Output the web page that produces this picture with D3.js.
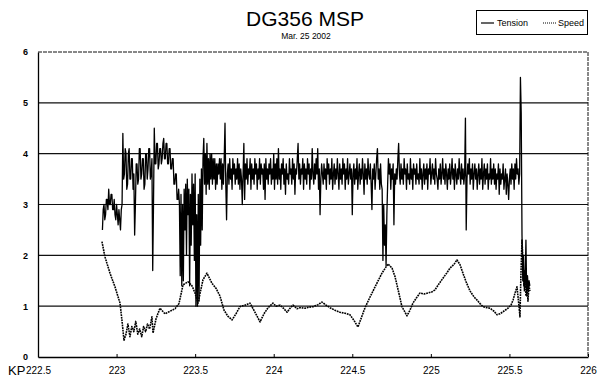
<!DOCTYPE html>
<html>
<head>
<meta charset="utf-8">
<script src="https://cdn.jsdelivr.net/npm/d3@7/dist/d3.min.js"></script>
<style>
  html, body { margin: 0; padding: 0; background: #fff; }
  svg { display: block; font-family: "Liberation Sans", Arial, sans-serif; }
</style>
</head>
<body>
<svg id="chart" width="597" height="379"></svg>
<script>
// ---------- DATA ----------
const chartTitle = "DG356 MSP";
const chartSubtitle = "Mar. 25 2002";
const seriesNames = ["Tension", "Speed"];
const xTickValues = [222.5, 223, 223.5, 224, 224.5, 225, 225.5, 226];
const xTickLabels = ["222.5", "223", "223.5", "224", "224.5", "225", "225.5", "226"];
const yTickValues = [0, 1, 2, 3, 4, 5, 6];

// Tension: recorded every 0.005 km starting at KP 222.91 (one row = 0.1 km)
const tensionStartKm = 222.91;
const tensionStepKm = 0.005;
const tensionValues = [
  2.5, 2.9, 3.0, 2.7, 2.8, 3.1, 3.1, 2.9, 3.3, 3.0, 3.0, 3.2, 3.2, 2.9, 2.9, 3.1, 2.8, 2.7, 3.0, 2.8,
  2.6, 2.9, 2.7, 2.5, 2.9, 3.0, 4.4, 3.5, 3.6, 4.1, 4.0, 3.3, 3.4, 4.0, 4.1, 3.5, 3.5, 3.9, 3.9, 3.3,
  3.6, 2.4, 3.0, 3.8, 3.8, 3.4, 3.5, 4.1, 4.1, 3.5, 3.6, 3.9, 3.9, 3.3, 3.4, 4.0, 4.0, 3.5, 3.7, 4.1,
  4.1, 3.5, 3.6, 3.9, 1.7, 3.0, 4.5, 3.8, 3.8, 4.2, 4.2, 3.7, 3.8, 4.1, 4.1, 3.8, 3.9, 4.2, 4.3, 3.9,
  3.9, 4.2, 4.2, 3.8, 3.8, 4.1, 4.1, 3.7, 3.7, 3.9, 3.9, 3.4, 3.4, 3.6, 3.6, 3.1, 3.1, 3.3, 3.0, 1.6,
  3.2, 1.4, 3.0, 1.5, 3.3, 2.5, 3.4, 2.0, 3.5, 2.8, 3.3, 1.4, 3.2, 2.2, 3.6, 2.6, 3.4, 1.9, 3.6, 1.0,
  2.8, 1.0, 3.2, 1.1, 3.5, 2.2, 3.7, 2.5, 3.9, 4.3, 3.4, 4.0, 3.2, 4.2, 3.4, 3.9, 3.3, 4.0, 3.5, 4.0,
  3.4, 3.9, 3.5, 3.9, 3.3, 3.8, 3.4, 3.8, 3.6, 3.9, 3.5, 3.9, 3.3, 3.8, 3.4, 3.9, 4.6, 3.4, 2.7, 3.6,
  3.8, 3.4, 3.9, 3.5, 3.7, 3.3, 3.9, 3.6, 3.8, 3.4, 3.7, 3.5, 3.9, 3.4, 3.8, 3.3, 3.7, 3.5, 3.0, 3.6,
  4.2, 3.1, 3.8, 3.5, 3.9, 3.4, 3.7, 3.6, 3.9, 3.3, 3.8, 3.5, 3.7, 3.4, 3.9, 3.6, 3.8, 3.3, 3.7, 3.5,
  3.9, 3.4, 3.8, 3.6, 3.7, 3.3, 3.8, 3.1, 3.9, 3.5, 3.7, 3.4, 3.8, 3.6, 3.9, 3.4, 3.7, 3.5, 4.0, 3.3,
  3.8, 3.5, 3.9, 3.4, 4.1, 3.5, 3.7, 3.3, 3.8, 3.6, 3.9, 3.4, 3.7, 3.2, 3.8, 3.5, 3.6, 3.4, 3.9, 3.6,
  3.7, 3.4, 3.9, 3.5, 3.8, 3.2, 3.7, 3.6, 3.9, 4.2, 3.5, 3.8, 3.4, 3.7, 3.6, 3.9, 3.3, 3.8, 3.5, 3.7,
  3.4, 3.9, 3.6, 3.8, 3.3, 3.7, 3.5, 4.1, 3.6, 3.4, 3.8, 3.5, 3.9, 3.6, 4.1, 3.3, 3.7, 2.8, 3.5, 3.8,
  3.6, 3.4, 3.8, 3.5, 3.7, 3.3, 3.9, 3.6, 3.8, 3.4, 3.7, 3.5, 3.9, 3.3, 3.6, 3.8, 3.4, 3.7, 3.5, 3.9,
  3.6, 3.3, 3.8, 3.5, 3.7, 3.4, 3.9, 3.6, 3.8, 3.3, 3.7, 3.5, 3.9, 3.4, 3.6, 3.8, 3.5, 3.7, 2.8, 3.6,
  3.8, 3.4, 3.7, 3.5, 3.9, 3.3, 3.6, 3.8, 3.4, 3.7, 3.5, 3.9, 3.6, 3.2, 3.8, 3.5, 3.7, 3.4, 3.9, 3.6,
  3.5, 3.8, 3.4, 2.9, 3.7, 3.5, 3.8, 3.3, 3.6, 3.9, 4.1, 3.5, 3.7, 3.3, 3.8, 3.4, 3.3, 1.9, 3.0, 2.2,
  2.6, 1.8, 2.8, 3.4, 3.9, 3.6, 3.8, 3.3, 3.7, 3.5, 3.8, 2.6, 3.6, 3.4, 3.7, 3.5, 3.9, 4.2, 3.6, 3.4,
  3.8, 3.5, 3.7, 3.4, 3.9, 3.6, 3.7, 3.3, 3.8, 3.5, 3.6, 3.4, 3.9, 3.5, 3.7, 3.3, 3.8, 3.6, 3.7, 3.4,
  3.8, 3.5, 3.6, 3.4, 3.9, 3.5, 3.7, 3.3, 3.6, 3.8, 3.4, 3.7, 3.5, 3.8, 3.3, 3.7, 3.6, 3.9, 3.4, 3.6,
  3.8, 3.5, 3.7, 3.4, 3.9, 3.6, 3.5, 3.3, 3.7, 3.5, 3.8, 3.4, 3.6, 3.9, 3.5, 3.7, 3.4, 3.8, 3.6, 3.3,
  3.7, 3.5, 3.8, 3.4, 3.6, 3.9, 3.5, 3.7, 3.3, 3.8, 3.6, 3.4, 3.7, 3.5, 3.9, 3.6, 3.4, 3.8, 3.5, 3.7,
  3.4, 3.6, 4.7, 2.5, 3.5, 3.8, 3.6, 3.9, 3.4, 3.7, 3.5, 3.8, 3.3, 3.6, 3.8, 3.5, 3.7, 3.3, 3.6, 3.8,
  3.4, 3.7, 3.5, 3.9, 3.3, 3.6, 3.8, 3.4, 3.7, 3.5, 3.8, 3.3, 3.6, 3.5, 3.9, 3.4, 3.7, 3.5, 3.8, 3.4,
  3.7, 3.3, 3.6, 3.5, 3.8, 3.2, 3.7, 3.4, 3.6, 3.5, 3.8, 3.3, 3.5, 3.7, 3.2, 3.6, 3.4, 3.1, 3.5, 3.7,
  3.4, 3.8, 3.5, 3.7, 3.3, 3.8, 3.5, 3.9, 3.6, 3.7, 3.4, 3.6, 5.5, 4.8, 2.4, 1.5, 2.0, 1.3, 1.4, 2.3,
  1.2, 1.6, 1.3, 1.5, 1.4
];

// Speed: KP positions and values
const speedKm = [
  222.907, 222.926, 222.958, 222.990, 223.022, 223.035, 223.047,
  223.060, 223.072, 223.085, 223.097, 223.110, 223.122, 223.135, 223.147, 223.160, 223.172, 223.185, 223.197, 223.210,
  223.225, 223.232, 223.251, 223.276, 223.308, 223.340, 223.372, 223.397, 223.423, 223.455,
  223.480, 223.499, 223.518, 223.550, 223.575, 223.607, 223.633, 223.658, 223.684, 223.709,
  223.735, 223.760, 223.785, 223.817, 223.849, 223.881, 223.913, 223.938, 223.964, 223.995,
  224.015, 224.040, 224.065, 224.085, 224.104, 224.123, 224.148, 224.167, 224.199, 224.225,
  224.250, 224.282, 224.307, 224.333, 224.358, 224.390, 224.422, 224.454, 224.485, 224.511,
  224.536, 224.555, 224.581, 224.613, 224.645, 224.689, 224.727, 224.753, 224.772, 224.797,
  224.816, 224.848, 224.867, 224.886, 224.912, 224.931, 224.957, 224.982, 225.007, 225.026,
  225.052, 225.077, 225.103, 225.122, 225.147, 225.166, 225.185, 225.204, 225.224, 225.249,
  225.275, 225.294, 225.313, 225.332, 225.358, 225.377, 225.402, 225.421, 225.440, 225.459,
  225.491, 225.510, 225.523, 225.535, 225.548, 225.561, 225.567, 225.573, 225.580, 225.586,
  225.592, 225.599, 225.605, 225.611, 225.618, 225.624, 225.631
];
const speedValues = [
  2.27, 1.97, 1.65, 1.38, 1.06, 0.70, 0.33,
  0.45, 0.65, 0.40, 0.60, 0.50, 0.70, 0.45, 0.55, 0.40, 0.60, 0.50, 0.65, 0.55,
  0.79, 0.47, 0.75, 0.96, 0.85, 0.90, 0.95, 1.05, 1.42, 1.48,
  1.40, 1.26, 1.06, 1.52, 1.65, 1.45, 1.35, 1.20, 0.92, 0.80,
  0.73, 0.85, 0.99, 1.02, 1.06, 0.88, 0.69, 0.85, 0.97, 1.06,
  1.00, 1.02, 0.95, 0.88, 0.96, 1.02, 0.95, 0.97, 0.96, 0.98,
  0.99, 1.03, 1.08, 1.02, 0.97, 0.92, 0.88, 0.86, 0.83, 0.72,
  0.59, 0.75, 0.97, 1.18, 1.38, 1.65, 1.83, 1.75, 1.58, 1.25,
  0.99, 0.81, 0.92, 1.06, 1.18, 1.26, 1.24, 1.26, 1.28, 1.32,
  1.44, 1.55, 1.66, 1.75, 1.82, 1.91, 1.82, 1.65, 1.48, 1.30,
  1.18, 1.12, 1.05, 0.99, 0.97, 0.96, 0.90, 0.83, 0.85, 0.89,
  0.96, 1.02, 1.12, 1.25, 1.38, 1.00, 0.79, 1.60, 2.30, 1.90,
  1.40, 1.70, 1.20, 1.50, 1.10, 1.40, 1.30
];

// ---------- CHART ----------
const svg = d3.select("#chart");
const W = 597, H = 379;
const plot = { left: 38, right: 588, top: 52, bottom: 357 };

const x = d3.scaleLinear().domain([222.5, 226]).range([plot.left, plot.right]);
const y = d3.scaleLinear().domain([0, 6]).range([plot.bottom, plot.top]);

svg.append("rect").attr("width", W).attr("height", H).attr("fill", "#fff");

// gridlines
svg.append("g").selectAll("line")
  .data(yTickValues.filter(v => v > 0 && v < 6))
  .join("line")
  .attr("x1", plot.left).attr("x2", plot.right)
  .attr("y1", d => y(d)).attr("y2", d => y(d))
  .attr("stroke", "#111").attr("stroke-width", 1.2);

// frame: top and right dashed, left and bottom solid
svg.append("line").attr("x1", plot.left).attr("x2", plot.right)
  .attr("y1", y(6)).attr("y2", y(6))
  .attr("stroke", "#111").attr("stroke-width", 1).attr("stroke-dasharray", "4,1");
svg.append("line").attr("x1", plot.right).attr("x2", plot.right)
  .attr("y1", y(6)).attr("y2", y(0))
  .attr("stroke", "#111").attr("stroke-width", 1).attr("stroke-dasharray", "4,1");

// data lines
const tensionData = tensionValues.map((v, i) => ({ km: tensionStartKm + i * tensionStepKm, v }));
const speedData = speedKm.map((k, i) => ({ km: k, v: speedValues[i] }));

const line = d3.line().x(d => x(d.km)).y(d => y(d.v));

svg.append("path").datum(speedData)
  .attr("d", line)
  .attr("fill", "none").attr("stroke", "#000")
  .attr("stroke-width", 1.6).attr("stroke-dasharray", "1.8,0.8")
  .attr("stroke-linejoin", "round");

svg.append("path").datum(tensionData)
  .attr("d", line)
  .attr("fill", "none").attr("stroke", "#000")
  .attr("stroke-width", 1.3).attr("stroke-linejoin", "round");

// x axis
const xAxis = d3.axisBottom(x)
  .tickValues(xTickValues)
  .tickFormat((d, i) => xTickLabels[i])
  .tickSize(-3).tickSizeOuter(0).tickPadding(10);
const gx = svg.append("g").attr("transform", `translate(0,${plot.bottom})`).call(xAxis);
gx.select(".domain").attr("stroke", "#000").attr("stroke-width", 1.3);
gx.selectAll(".tick line").attr("stroke", "#000");
gx.selectAll(".tick text").attr("font-size", 10).attr("fill", "#000")
  .attr("font-family", "Liberation Sans, Arial, sans-serif");

svg.append("text").attr("x", 8).attr("y", 375)
  .attr("font-size", 13).attr("fill", "#000").text("KP");

// y axis
const yAxis = d3.axisLeft(y).tickValues(yTickValues).tickFormat(d3.format("d"))
  .tickSize(0).tickPadding(10);
const gy = svg.append("g").attr("transform", `translate(${plot.left},0)`).call(yAxis);
gy.select(".domain").attr("stroke", "#000").attr("stroke-width", 1.3);
gy.selectAll(".tick text").attr("font-size", 9).attr("font-weight", "bold").attr("fill", "#000")
  .attr("font-family", "Liberation Sans, Arial, sans-serif");

// title
svg.append("text").attr("x", 305).attr("y", 26).attr("text-anchor", "middle")
  .attr("font-size", 21).attr("fill", "#000").text(chartTitle);
svg.append("text").attr("x", 306).attr("y", 39).attr("text-anchor", "middle")
  .attr("font-size", 8.5).attr("fill", "#000").text(chartSubtitle);

// legend
const lg = svg.append("g");
lg.append("rect").attr("x", 476.5).attr("y", 10.5).attr("width", 111).attr("height", 24)
  .attr("fill", "#fff").attr("stroke", "#000").attr("stroke-width", 1);
lg.append("line").attr("x1", 481).attr("x2", 494).attr("y1", 23).attr("y2", 23)
  .attr("stroke", "#000").attr("stroke-width", 1.2);
lg.append("text").attr("x", 497).attr("y", 26).attr("font-size", 9).attr("fill", "#000").text(seriesNames[0]);
lg.append("line").attr("x1", 543).attr("x2", 556).attr("y1", 23).attr("y2", 23)
  .attr("stroke", "#000").attr("stroke-width", 1).attr("stroke-dasharray", "1,1");
lg.append("text").attr("x", 558).attr("y", 26).attr("font-size", 9).attr("fill", "#000").text(seriesNames[1]);
</script>
</body>
</html>
